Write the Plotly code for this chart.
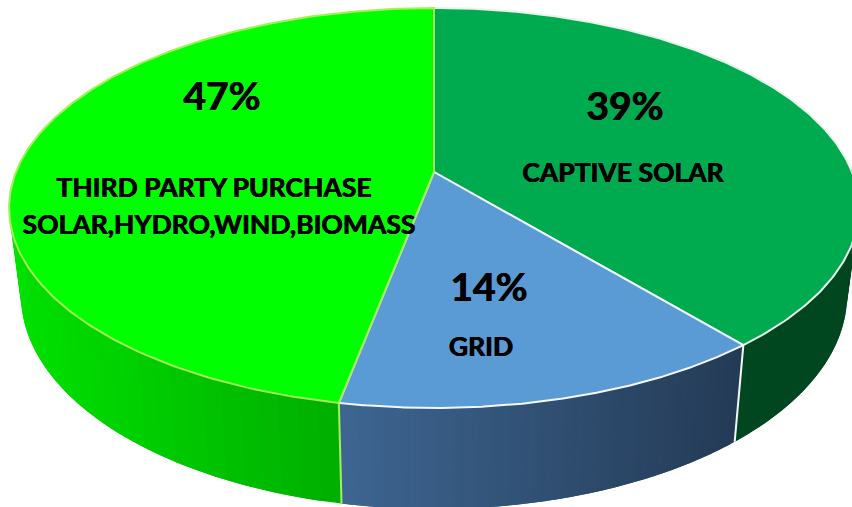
import numpy as np
import plotly.graph_objects as go

# Share of power supply, clockwise from twelve o'clock
sources = ["CAPTIVE SOLAR", "GRID", "THIRD PARTY PURCHASE", "SOLAR,HYDRO,WIND,BIOMASS"]
shares = [39, 14, 47]

# Disc geometry in page pixels
CX, CY = 434.0, 172.0
RX, RY = 418.0, 193.5
PERSP = 0.18
# Lower rim of the extruded wall
BASE_SX, BASE_SY, BASE_DY = 0.972, 1.07, 84.5

top_colors = ["#00AB50", "#5B9BD5", "#00FF00"]
edge_colors = ["#E8F5EC", "#F4F8FC", "#A6EE5A"]
# Wall colour at the left and right end of each slice's visible wall
wall_stops = {
    0: ((0, 70, 30), (0, 70, 30)),
    1: ((62, 102, 146), (36, 59, 86)),
    2: ((0, 226, 0), (0, 160, 0)),
}


def rim(t, level=0):
    """Project disc angle t (radians, clockwise from the top) to the page."""
    u, v = np.sin(t), np.cos(t)
    w = 1 + PERSP * v
    x, y = RX * u / w, -RY * v / w
    if level == 0:
        return CX + x, CY + y
    return CX + BASE_SX * x, CY + BASE_DY + BASE_SY * y


fig = go.Figure()
bounds = 2 * np.pi * np.concatenate([[0], np.cumsum(shares)]) / sum(shares)

# Walls, built from overlapping strips so the shade can vary along the rim
STRIPS = 70
for i in range(len(shares)):
    edges = np.linspace(bounds[i], bounds[i + 1], STRIPS + 1)
    xs_all = rim(edges)[0]
    lo, hi = xs_all.min(), xs_all.max()
    # Each strip runs on over the next one, which then paints over the overlap
    for k in range(STRIPS):
        s, e = edges[k], edges[min(k + 2, STRIPS)]
        seg = np.linspace(s, e, 4)
        x0, y0 = rim(seg)
        x1, y1 = rim(seg, 1)
        f = (rim((edges[k] + edges[k + 1]) / 2)[0] - lo) / max(hi - lo, 1)
        c0, c1 = wall_stops[i]
        rgb = [int(c0[n] + (c1[n] - c0[n]) * f) for n in range(3)]
        col = f"rgb({rgb[0]},{rgb[1]},{rgb[2]})"
        fig.add_trace(go.Scatter(
            x=np.r_[x0, x1[::-1], x0[0]], y=np.r_[y0, y1[::-1], y0[0]],
            mode="none", fill="toself", fillcolor=col,
            hoverinfo="skip", showlegend=False,
        ))

# Vertical seams between the walls on the near side
for i, seam_color in ((1, edge_colors[1]), (2, edge_colors[2])):
    t = bounds[i]
    x0, y0 = rim(t)
    x1, y1 = rim(t, 1)
    fig.add_trace(go.Scatter(
        x=[x0, x1], y=[y0, y1], mode="lines",
        line=dict(color=seam_color, width=2),
        hoverinfo="skip", showlegend=False,
    ))

# Top faces
for i in range(len(shares)):
    arc = np.linspace(bounds[i], bounds[i + 1], 200)
    ax, ay = rim(arc)
    fig.add_trace(go.Scatter(
        x=np.r_[CX, ax, CX], y=np.r_[CY, ay, CY],
        mode="lines", fill="toself", fillcolor=top_colors[i],
        line=dict(color=edge_colors[i], width=2),
        hoverinfo="skip", showlegend=False,
    ))

# Text placement: percentage centres, then one centre per name line
pct_pos = [(625, 110), (489, 291), (222, 100)]
name_pos = [(623, 175), (481, 349), (214, 190), (219, 227)]
TEXT_FONT = "Lato, Carlito, sans-serif"
HEAVY = "0.4px 0 0 #000, -0.4px 0 0 #000"

fig.add_trace(go.Scatter(
    x=[p[0] for p in pct_pos], y=[p[1] for p in pct_pos],
    text=[f"{v}%" for v in shares], mode="text",
    textfont=dict(family=TEXT_FONT, size=39, color="#000000", weight="bold", shadow=HEAVY),
    hoverinfo="skip", showlegend=False,
))
fig.add_trace(go.Scatter(
    x=[p[0] for p in name_pos], y=[p[1] for p in name_pos],
    text=sources, mode="text",
    textfont=dict(family=TEXT_FONT, size=26.5, color="#000000", weight="bold", shadow=HEAVY),
    hoverinfo="skip", showlegend=False,
))

fig.update_layout(
    width=852, height=507, margin=dict(l=0, r=0, t=0, b=0),
    paper_bgcolor="white", plot_bgcolor="white", showlegend=False,
    xaxis=dict(range=[0, 852], visible=False, fixedrange=True),
    yaxis=dict(range=[507, 0], visible=False, fixedrange=True),
)
fig.write_html("out.html", config={"displayModeBar": False})
